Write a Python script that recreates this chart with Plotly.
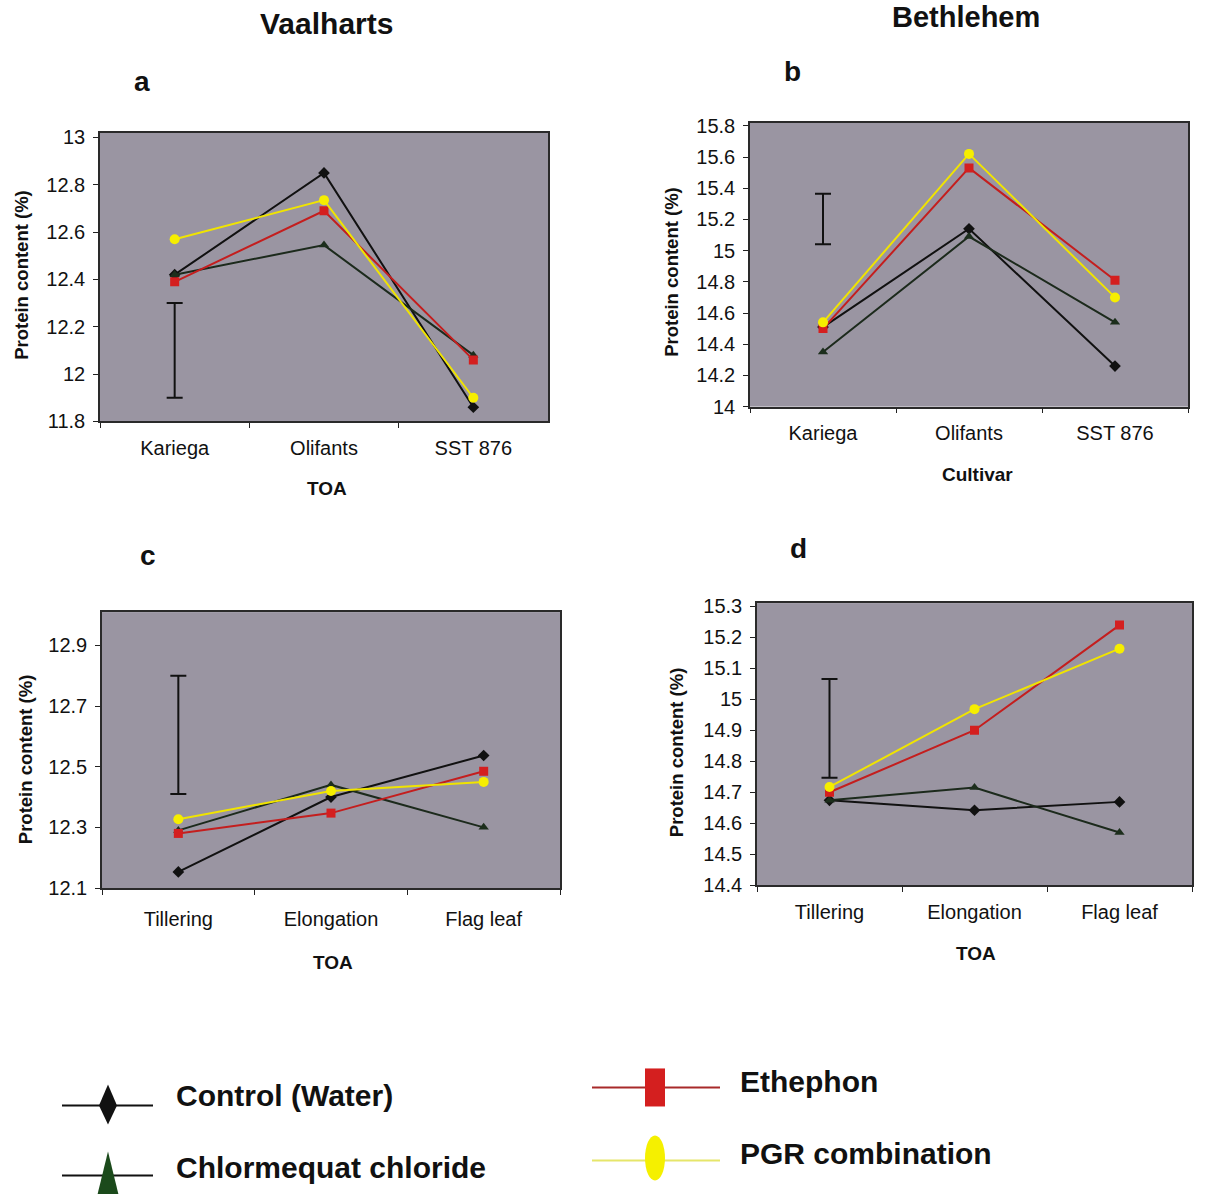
import plotly.graph_objects as go

W, H = 1206, 1194

# ---------------- data ----------------
cultivars = ["Kariega", "Olifants", "SST 876"]
stages = ["Tillering", "Elongation", "Flag leaf"]
series_names = ["Control (Water)", "Chlormequat chloride", "Ethephon", "PGR combination"]

# Panel a: Vaalharts, cultivar
control_a = [12.42, 12.85, 11.86]
chlor_a = [12.42, 12.545, 12.08]
eth_a = [12.39, 12.69, 12.06]
pgr_a = [12.57, 12.735, 11.90]
err_a = [11.90, 12.30]

# Panel b: Bethlehem, cultivar
control_b = [14.51, 15.14, 14.26]
chlor_b = [14.35, 15.09, 14.54]
eth_b = [14.50, 15.53, 14.81]
pgr_b = [14.54, 15.62, 14.70]
err_b = [15.04, 15.365]

# Panel c: Vaalharts, time of application
control_c = [12.153, 12.40, 12.537]
chlor_c = [12.29, 12.44, 12.30]
eth_c = [12.28, 12.347, 12.485]
pgr_c = [12.327, 12.42, 12.45]
err_c = [12.41, 12.80]

# Panel d: Bethlehem, time of application
control_d = [14.674, 14.642, 14.669]
chlor_d = [14.674, 14.715, 14.57]
eth_d = [14.70, 14.90, 15.239]
pgr_d = [14.717, 14.968, 15.163]
err_d = [14.747, 15.065]

ticks_a = [11.8, 12.0, 12.2, 12.4, 12.6, 12.8, 13.0]
ticklabels_a = ["11.8", "12", "12.2", "12.4", "12.6", "12.8", "13"]
ticks_b = [14.0, 14.2, 14.4, 14.6, 14.8, 15.0, 15.2, 15.4, 15.6, 15.8]
ticklabels_b = ["14", "14.2", "14.4", "14.6", "14.8", "15", "15.2", "15.4", "15.6", "15.8"]
ticks_c = [12.1, 12.3, 12.5, 12.7, 12.9]
ticklabels_c = ["12.1", "12.3", "12.5", "12.7", "12.9"]
ticks_d = [14.4, 14.5, 14.6, 14.7, 14.8, 14.9, 15.0, 15.1, 15.2, 15.3]
ticklabels_d = ["14.4", "14.5", "14.6", "14.7", "14.8", "14.9", "15", "15.1", "15.2", "15.3"]

# ---------------- styles ----------------
FONT = "Liberation Sans, Arial, sans-serif"
BG = "#9a95a2"
styles = [
    dict(line=dict(color="#111111", width=2), marker=dict(symbol="diamond", size=9, color="#111111")),
    dict(line=dict(color="#1c2a1c", width=2), marker=dict(symbol="triangle-up", size=9, color="#1c2e1c")),
    dict(line=dict(color="#c41e1e", width=2), marker=dict(symbol="square", size=9, color="#d41f1f")),
    dict(line=dict(color="#f0e400", width=2), marker=dict(symbol="circle", size=10, color="#f6ee00")),
]

# empirical vertical calibration of the rendered page
VOFF, VSCALE = 8.4, 0.9833

def px_x(x):
    return x / W

def px_y(y):
    return 1 - (y - VOFF) / (VSCALE * H)

panels = [
    dict(cats=cultivars, series=[control_a, chlor_a, eth_a, pgr_a], err=err_a,
         box=(100, 548, 133, 421.5), yr=[11.8, 13.02], tv=ticks_a, tt=ticklabels_a, xstand=8),
    dict(cats=cultivars, series=[control_b, chlor_b, eth_b, pgr_b], err=err_b,
         box=(750, 1188, 123, 406.7), yr=[14.0, 15.82], tv=ticks_b, tt=ticklabels_b, xstand=8),
    dict(cats=stages, series=[control_c, chlor_c, eth_c, pgr_c], err=err_c,
         box=(102, 560, 612, 887.7), yr=[12.1, 13.01], tv=ticks_c, tt=ticklabels_c, xstand=12),
    dict(cats=stages, series=[control_d, chlor_d, eth_d, pgr_d], err=err_d,
         box=(757, 1192, 603, 885), yr=[14.4, 15.31], tv=ticks_d, tt=ticklabels_d, xstand=8),
]

fig = go.Figure()
layout = {}
for i, p in enumerate(panels, start=1):
    xa = "x" if i == 1 else f"x{i}"
    ya = "y" if i == 1 else f"y{i}"
    lo, hi = p["err"]
    fig.add_trace(go.Scatter(
        x=[p["cats"][0]], y=[(lo + hi) / 2], mode="markers",
        marker=dict(size=1, color="rgba(0,0,0,0)"),
        error_y=dict(type="data", array=[(hi - lo) / 2], color="#111111", thickness=2, width=8),
        xaxis=xa, yaxis=ya, showlegend=False, hoverinfo="skip"))
    for s, vals, st in zip(series_names, p["series"], styles):
        fig.add_trace(go.Scatter(x=p["cats"], y=vals, mode="lines+markers", name=s,
                                 line=st["line"], marker=st["marker"],
                                 xaxis=xa, yaxis=ya, showlegend=False))
    x0, x1, y0, y1 = p["box"]
    kx = "xaxis" if i == 1 else f"xaxis{i}"
    ky = "yaxis" if i == 1 else f"yaxis{i}"
    layout[kx] = dict(domain=[px_x(x0), px_x(x1)], anchor=ya, type="category",
                      categoryorder="array", categoryarray=p["cats"], range=[-0.5, 2.5],
                      tickson="boundaries", ticks="outside", ticklen=5, tickcolor="#222",
                      showline=True, linecolor="#2a2a2a", linewidth=1.5, mirror=True,
                      showgrid=False, zeroline=False, ticklabelstandoff=p["xstand"],
                      tickfont=dict(family=FONT, size=20, color="#111"))
    layout[ky] = dict(domain=[px_y(y1), px_y(y0)], anchor=xa, range=p["yr"],
                      tickvals=p["tv"], ticktext=p["tt"], ticks="outside", ticklen=5,
                      tickcolor="#222", showline=True, linecolor="#2a2a2a", linewidth=1.5,
                      mirror=True, showgrid=False, zeroline=False, ticklabelstandoff=4,
                      tickfont=dict(family=FONT, size=20, color="#111"))

annotations = []

def ann(text, x, y, size, bold=True, angle=0, xanchor="center"):
    annotations.append(dict(text=f"<b>{text}</b>" if bold else text, x=px_x(x), y=px_y(y),
                            xref="paper", yref="paper", showarrow=False, textangle=angle,
                            xanchor=xanchor, yanchor="middle",
                            font=dict(family=FONT, size=size, color="#111")))

ann("Vaalharts", 326, 24, 30)
ann("Bethlehem", 966, 17, 29)
ann("a", 142, 82, 28)
ann("b", 792, 72, 28)
ann("c", 148, 555, 28)
ann("d", 798, 548, 28)
ann("TOA", 327, 489, 19)
ann("Cultivar", 977, 475, 19)
ann("TOA", 333, 962, 19)
ann("TOA", 976, 953, 19)
ann("Protein content (%)", 22, 275, 18.5, angle=-90)
ann("Protein content (%)", 672, 272, 18.5, angle=-90)
ann("Protein content (%)", 25, 759, 18.5, angle=-90)
ann("Protein content (%)", 676, 752, 18.5, angle=-90)

# legend text
ann("Control (Water)", 174, 1095, 30, xanchor="left")
ann("Chlormequat chloride", 174, 1167, 30, xanchor="left")
ann("Ethephon", 738, 1081, 30, xanchor="left")
ann("PGR combination", 738, 1153, 30, xanchor="left")

def path(points):
    return "M " + " L ".join(f"{px_x(x):.5f},{px_y(y):.5f}" for x, y in points) + " Z"

shapes = [
    dict(type="line", xref="paper", yref="paper", x0=px_x(62), x1=px_x(153), y0=px_y(1105), y1=px_y(1105),
         line=dict(color="#111", width=2)),
    dict(type="path", xref="paper", yref="paper", path=path([(108, 1084), (117, 1105), (108, 1124), (99, 1105)]),
         fillcolor="#111", line=dict(width=0)),
    dict(type="line", xref="paper", yref="paper", x0=px_x(62), x1=px_x(153), y0=px_y(1175), y1=px_y(1175),
         line=dict(color="#111", width=2)),
    dict(type="path", xref="paper", yref="paper", path=path([(108, 1151), (119, 1196), (97, 1196)]),
         fillcolor="#1b4a1b", line=dict(width=0)),
    dict(type="line", xref="paper", yref="paper", x0=px_x(592), x1=px_x(720), y0=px_y(1087), y1=px_y(1087),
         line=dict(color="#a82a2a", width=2)),
    dict(type="rect", xref="paper", yref="paper", x0=px_x(645), x1=px_x(665), y0=px_y(1106), y1=px_y(1068),
         fillcolor="#d41f1f", line=dict(width=0)),
    dict(type="line", xref="paper", yref="paper", x0=px_x(592), x1=px_x(720), y0=px_y(1160), y1=px_y(1160),
         line=dict(color="#e6e66a", width=2)),
    dict(type="circle", xref="paper", yref="paper", x0=px_x(645), x1=px_x(665), y0=px_y(1180), y1=px_y(1135),
         fillcolor="#f5f000", line=dict(width=0)),
]

fig.update_layout(width=W, height=H, margin=dict(l=0, r=0, t=0, b=0),
                  paper_bgcolor="white", plot_bgcolor=BG, showlegend=False,
                  annotations=annotations, shapes=shapes, **layout)

fig.write_html("out.html")
